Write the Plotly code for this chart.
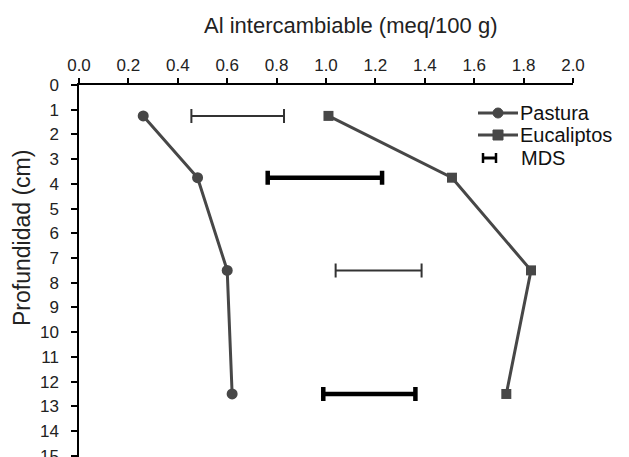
import plotly.graph_objects as go

# ---- data ----
depth = [1.25, 3.75, 7.5, 12.5]
pastura = [0.26, 0.48, 0.60, 0.62]
eucaliptos = [1.01, 1.51, 1.83, 1.73]

mds_depth = [1.25, 3.75, 7.5, 12.5]
mds_low = [0.455, 0.764, 1.039, 0.989]
mds_high = [0.830, 1.227, 1.387, 1.362]
mds_center = [(a + b) / 2 for a, b in zip(mds_low, mds_high)]
mds_half = [(b - a) / 2 for a, b in zip(mds_low, mds_high)]

x_ticks = [0.0, 0.2, 0.4, 0.6, 0.8, 1.0, 1.2, 1.4, 1.6, 1.8, 2.0]
y_ticks = list(range(0, 16))

# ---- layout geometry ----
W, H = 629, 457
ML, MR, MT, MB = 79, 56, 85, 0
PW, PH = W - ML - MR, H - MT - MB


def px2x(px):
    return (px - ML) / PW


def px2y(py):
    return (H - MB - py) / PH


FONT = "Liberation Sans, Arial, sans-serif"
LINE_C = "#474747"

fig = go.Figure()

fig.add_trace(go.Scatter(
    x=pastura, y=depth, mode="lines+markers", name="Pastura",
    line=dict(color=LINE_C, width=3),
    marker=dict(symbol="circle", size=11, color=LINE_C),
    showlegend=False,
))
fig.add_trace(go.Scatter(
    x=eucaliptos, y=depth, mode="lines+markers", name="Eucaliptos",
    line=dict(color=LINE_C, width=3),
    marker=dict(symbol="square", size=10, color=LINE_C),
    showlegend=False,
))

# MDS bars: thin (index 0,2) and thick (index 1,3)
thin_idx = [0, 2]
thick_idx = [1, 3]
for idx, thick, capw, col in [(thin_idx, 2, 7, "#333333"), (thick_idx, 4.5, 7, "#000000")]:
    fig.add_trace(go.Scatter(
        x=[mds_center[i] for i in idx], y=[mds_depth[i] for i in idx],
        mode="markers", marker=dict(size=1, opacity=0),
        error_x=dict(type="data", symmetric=True, array=[mds_half[i] for i in idx],
                     thickness=thick, width=capw, color=col),
        showlegend=False, hoverinfo="skip",
    ))

# ---- manual legend ----
shapes = []
annotations = []
LEG_FS = 20
leg_items = [("Pastura", "circle", 113), ("Eucaliptos", "square", 135)]
for name, sym, py in leg_items:
    shapes.append(dict(type="line", xref="paper", yref="paper",
                       x0=px2x(478), x1=px2x(518), y0=px2y(py), y1=px2y(py),
                       line=dict(color=LINE_C, width=3)))
    shapes.append(dict(type="circle" if sym == "circle" else "rect",
                       xref="paper", yref="paper", xsizemode="pixel", ysizemode="pixel",
                       xanchor=px2x(498), yanchor=px2y(py),
                       x0=-5, x1=5, y0=-5, y1=5,
                       fillcolor=LINE_C, line=dict(color=LINE_C, width=1)))
    annotations.append(dict(text=name, xref="paper", yref="paper",
                            x=px2x(519), y=px2y(py), xanchor="left", yanchor="middle",
                            showarrow=False, borderpad=0,
                            font=dict(family=FONT, size=LEG_FS, color="#111111")))
# MDS legend glyph
mpy = 158
shapes.append(dict(type="line", xref="paper", yref="paper",
                   x0=px2x(483), x1=px2x(496), y0=px2y(mpy), y1=px2y(mpy),
                   line=dict(color="#000000", width=3)))
for cx in (483, 496):
    shapes.append(dict(type="line", xref="paper", yref="paper",
                       x0=px2x(cx), x1=px2x(cx), y0=px2y(mpy - 5), y1=px2y(mpy + 5),
                       line=dict(color="#000000", width=2.5)))
annotations.append(dict(text="MDS", xref="paper", yref="paper",
                        x=px2x(520), y=px2y(mpy), xanchor="left", yanchor="middle",
                        showarrow=False, borderpad=0,
                        font=dict(family=FONT, size=LEG_FS, color="#111111")))

# Titles
annotations.append(dict(text="Al intercambiable (meq/100 g)", xref="paper", yref="paper",
                        x=px2x(350), y=px2y(26), xanchor="center", yanchor="middle",
                        showarrow=False, font=dict(family=FONT, size=22, color="#222222")))
annotations.append(dict(text="Profundidad (cm)", xref="paper", yref="paper",
                        x=px2x(22), y=px2y(238), xanchor="center", yanchor="middle",
                        textangle=-90, showarrow=False,
                        font=dict(family=FONT, size=23, color="#222222")))

fig.update_layout(
    width=W, height=H,
    margin=dict(l=ML, r=MR, t=MT, b=MB, autoexpand=False),
    paper_bgcolor="white", plot_bgcolor="white",
    font=dict(family=FONT, size=17, color="#222222"),
    shapes=shapes, annotations=annotations,
    showlegend=False,
)
fig.update_xaxes(
    side="top", range=[0, 2], tickvals=x_ticks,
    ticktext=[f"{v:.1f}" for v in x_ticks],
    showline=True, linecolor="black", linewidth=1.5,
    ticks="outside", ticklen=5, tickwidth=2, tickcolor="black",
    showgrid=False, zeroline=False, automargin=False,
)
fig.update_yaxes(
    range=[15.05, 0], tickvals=y_ticks,
    showline=True, linecolor="black", linewidth=1.5,
    ticks="outside", ticklen=6, tickwidth=2, tickcolor="black",
    ticklabelstandoff=9, ticklabeloverflow="allow",
    showgrid=False, zeroline=False, automargin=False,
)

fig.write_html("out.html")
